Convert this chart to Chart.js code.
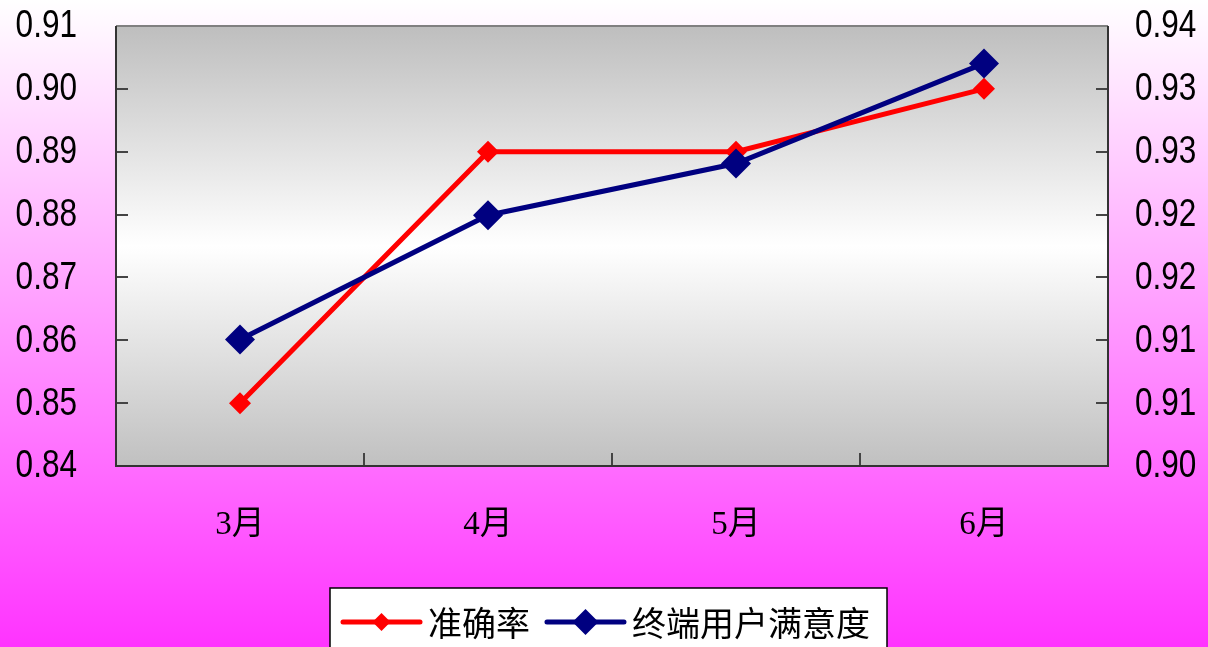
<!DOCTYPE html>
<html>
<head>
<meta charset="utf-8">
<script src="https://cdn.jsdelivr.net/npm/chart.js@4/dist/chart.umd.min.js"></script>
<style>
  html, body { margin: 0; padding: 0; overflow: hidden; }
  body { width: 1208px; height: 647px; background: linear-gradient(to bottom, #ffffff 0%, #ff33ff 100%); }
  canvas { display: block; }
</style>
</head>
<body>
<canvas id="chart" width="1208" height="647"></canvas>
<script>
// 数据
const months = ['3月', '4月', '5月', '6月'];
const accuracy = [0.85, 0.89, 0.89, 0.90];          // 准确率 (左轴)
const satisfaction = [0.9115, 0.9228, 0.9275, 0.9366]; // 终端用户满意度 (右轴)
const leftTicks = [0.84, 0.85, 0.86, 0.87, 0.88, 0.89, 0.90, 0.91];
const rightTickLabels = ['0.90', '0.91', '0.91', '0.92', '0.92', '0.93', '0.93', '0.94'];
const rightMin = 0.90, rightMax = 0.94;

// 数字标签: Arial 类字体, 横向压窄
const numFont = '38px "Liberation Sans", Arial, sans-serif';
const numSquash = 0.83;

// 绘图区渐变背景 + 边框 + 刻度线 + 数值轴标签
const plotArea = {
    id: 'plotArea',
    beforeDatasetsDraw(chart) {
        const { ctx, chartArea: a, scales } = chart;
        ctx.save();
        const g = ctx.createLinearGradient(0, a.top, 0, a.bottom);
        g.addColorStop(0, '#bebebe');
        g.addColorStop(0.5, '#ffffff');
        g.addColorStop(1, '#c0c0c0');
        ctx.fillStyle = g;
        ctx.fillRect(a.left, a.top, a.right - a.left, a.bottom - a.top);

        // 刻度线 (向内)
        ctx.strokeStyle = '#444';
        ctx.lineWidth = 2;
        ctx.beginPath();
        scales.y.ticks.forEach(t => {
            const y = Math.round(scales.y.getPixelForValue(t.value));
            ctx.moveTo(a.left, y); ctx.lineTo(a.left + 12, y);
        });
        scales.y2.ticks.forEach(t => {
            const y = Math.round(scales.y2.getPixelForValue(t.value));
            ctx.moveTo(a.right, y); ctx.lineTo(a.right - 12, y);
        });
        for (let i = 1; i < months.length; i++) {
            const x = Math.round((scales.x.getPixelForValue(i - 1) + scales.x.getPixelForValue(i)) / 2);
            ctx.moveTo(x, a.bottom); ctx.lineTo(x, a.bottom - 13);
        }
        ctx.stroke();

        // 边框
        ctx.lineWidth = 2;
        ctx.strokeStyle = '#808080';
        ctx.beginPath();
        ctx.moveTo(a.left, a.top); ctx.lineTo(a.right, a.top);
        ctx.stroke();
        ctx.strokeStyle = '#333';
        ctx.beginPath();
        ctx.moveTo(a.left, a.top); ctx.lineTo(a.left, a.bottom); ctx.lineTo(a.right, a.bottom); ctx.lineTo(a.right, a.top);
        ctx.stroke();

        // 数值轴标签
        ctx.fillStyle = '#000';
        ctx.font = numFont;
        ctx.textBaseline = 'middle';
        ctx.scale(numSquash, 1);
        ctx.textAlign = 'right';
        scales.y.ticks.forEach(t => {
            ctx.fillText(t.value.toFixed(2), (a.left - 39) / numSquash, scales.y.getPixelForValue(t.value) + 1);
        });
        ctx.textAlign = 'left';
        scales.y2.ticks.forEach((t, i) => {
            ctx.fillText(rightTickLabels[i], (a.right + 27) / numSquash, scales.y2.getPixelForValue(t.value) + 1);
        });
        ctx.restore();
    }
};

// 底部图例 (白底黑框)
const boxLegend = {
    id: 'boxLegend',
    afterDraw(chart) {
        const { ctx } = chart;
        const font = '34px "Noto Sans CJK SC", sans-serif';
        ctx.save();
        ctx.font = font;
        const items = chart.data.datasets.map(ds => ({
            label: ds.label, color: ds.borderColor, r: ds.pointRadius - 2,
            w: ctx.measureText(ds.label).width
        }));
        const pad = 13, lineLen = 77, gap = 8, itemGap = 17;
        let total = pad;
        items.forEach(it => { total += lineLen + gap + it.w + itemGap; });
        const boxX = Math.round((chart.width - total) / 2) + 4;
        const boxY = 588, cy = 622;
        ctx.fillStyle = '#ffffff';
        ctx.fillRect(boxX, boxY, total, 80);
        ctx.strokeStyle = '#000';
        ctx.lineWidth = 1.5;
        ctx.strokeRect(boxX, boxY, total, 80);

        let x = boxX + pad;
        items.forEach(it => {
            ctx.strokeStyle = it.color;
            ctx.lineWidth = 5;
            ctx.lineCap = 'round';
            ctx.beginPath();
            ctx.moveTo(x, cy); ctx.lineTo(x + lineLen, cy);
            ctx.stroke();
            const mx = x + lineLen / 2;
            ctx.fillStyle = it.color;
            ctx.beginPath();
            ctx.moveTo(mx - it.r, cy); ctx.lineTo(mx, cy - it.r);
            ctx.lineTo(mx + it.r, cy); ctx.lineTo(mx, cy + it.r);
            ctx.closePath();
            ctx.fill();
            ctx.fillStyle = '#000';
            ctx.textBaseline = 'middle';
            ctx.fillText(it.label, x + lineLen + gap, cy + 1);
            x += lineLen + gap + it.w + itemGap;
        });
        ctx.restore();
    }
};

document.addEventListener('DOMContentLoaded', function () {
    const ctx = document.getElementById('chart').getContext('2d');
    new Chart(ctx, {
        type: 'line',
        data: {
            labels: months,
            datasets: [{
                label: '准确率',
                data: accuracy,
                yAxisID: 'y',
                borderColor: '#ff0000',
                backgroundColor: '#ff0000',
                borderWidth: 5,
                pointStyle: 'rectRot',
                pointRadius: 11,
                pointBorderWidth: 0,
                tension: 0,
                order: 2
            }, {
                label: '终端用户满意度',
                data: satisfaction,
                yAxisID: 'y2',
                borderColor: '#000080',
                backgroundColor: '#000080',
                borderWidth: 5,
                pointStyle: 'rectRot',
                pointRadius: 15,
                pointBorderWidth: 0,
                tension: 0,
                order: 1
            }]
        },
        options: {
            responsive: false,
            animation: false,
            layout: { padding: { top: 26, bottom: 0, left: 0, right: 0 } },
            plugins: { legend: { display: false }, tooltip: { enabled: false } },
            scales: {
                x: {
                    offset: true,
                    grid: { display: false, drawTicks: false },
                    border: { display: false },
                    ticks: {
                        padding: 40,
                        color: '#000',
                        font: { family: '"Liberation Serif", "Noto Sans CJK SC", serif', size: 33 }
                    },
                    afterFit: s => { s.height = 181; s.paddingLeft = 0; s.paddingRight = 0; }
                },
                y: {
                    position: 'left',
                    min: 0.84, max: 0.91,
                    grid: { display: false, drawTicks: false },
                    border: { display: false },
                    ticks: { display: false },
                    afterBuildTicks: s => { s.ticks = leftTicks.map(v => ({ value: v })); },
                    afterFit: s => { s.width = 116; s.paddingTop = 0; s.paddingBottom = 0; }
                },
                y2: {
                    position: 'right',
                    min: rightMin, max: rightMax,
                    grid: { display: false, drawTicks: false },
                    border: { display: false },
                    ticks: { display: false },
                    afterBuildTicks: s => {
                        s.ticks = rightTickLabels.map((l, i) => ({
                            value: rightMin + i * (rightMax - rightMin) / (rightTickLabels.length - 1)
                        }));
                    },
                    afterFit: s => { s.width = 100; s.paddingTop = 0; s.paddingBottom = 0; }
                }
            }
        },
        plugins: [plotArea, boxLegend]
    });
});
</script>
</body>
</html>
